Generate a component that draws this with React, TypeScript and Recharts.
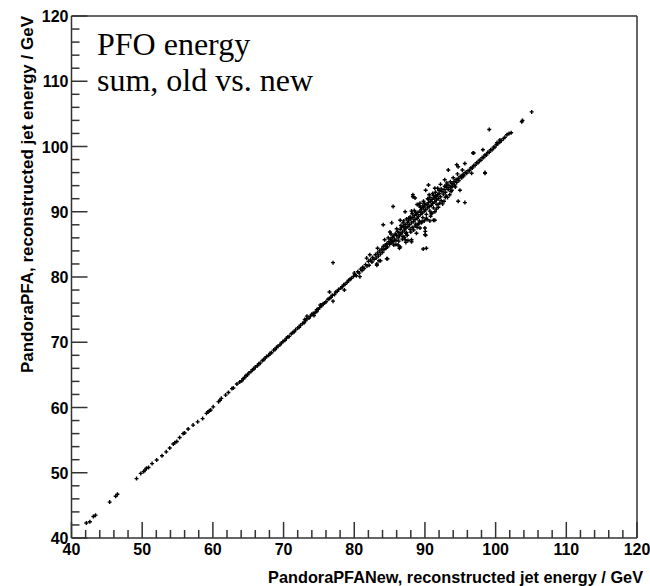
import { ScatterChart, Scatter, XAxis, YAxis, ReferenceLine } from 'recharts';

// =============================================================================
// Data (GeV)
// =============================================================================

// tick positions (every 2 GeV, labels on multiples of 10)
const axisTicks = [
  40, 42, 44, 46, 48, 50, 52, 54, 56, 58, 60, 62, 64, 66, 68, 70, 72, 74, 76, 78, 80,
  82, 84, 86, 88, 90, 92, 94, 96, 98, 100, 102, 104, 106, 108, 110, 112, 114, 116, 118, 120,
];
const labelledTicks = [40, 50, 60, 70, 80, 90, 100, 110, 120];

// sparse low-energy tail, [new, old]
const lowTail: [number, number][] = [
  [42.1, 42.3], [42.6, 42.5], [43.1, 43.3], [43.4, 43.5], [45.4, 45.5], [46.25, 46.4], [46.5, 46.7],
  [49.2, 49.1], [49.8, 49.9], [50.2, 50.2], [50.4, 50.4], [50.6, 50.7], [50.9, 50.8], [51.4, 51.4],
  [52.05, 51.95], [52.8, 52.6], [53.4, 53.2], [53.9, 53.8], [54.4, 54.4], [54.6, 54.6], [54.9, 54.8],
  [55.3, 55.4], [55.8, 56.0], [56.0, 56.1], [56.5, 56.7], [57.2, 57.3], [57.85, 57.8], [58.55, 58.3],
  [59.1, 59.1], [59.3, 59.3], [59.5, 59.5], [59.7, 59.6], [60.05, 60.1], [60.8, 60.9], [61.0, 61.1],
  [61.2, 61.4], [61.8, 61.9], [62.2, 62.3], [62.7, 62.9], [62.9, 63.0], [63.4, 63.6], [63.8, 63.9],
  [64.1, 64.1],
];

// continuous diagonal, 64 - 80 GeV
const lineBody: [number, number][] = [
  [64.3, 64.4], [64.5, 64.6], [64.7, 64.9], [64.9, 65.0], [65.1, 65.3], [65.4, 65.5], [65.6, 65.8],
  [65.8, 65.9], [66.0, 66.2], [66.3, 66.4], [66.5, 66.7], [66.7, 66.8], [67.0, 67.2], [67.2, 67.3],
  [67.4, 67.6], [67.6, 67.8], [67.9, 68.0], [68.1, 68.3], [68.3, 68.4], [68.6, 68.8], [68.8, 68.9],
  [69.0, 69.2], [69.2, 69.4], [69.5, 69.6], [69.7, 69.9], [69.9, 70.1], [70.2, 70.3], [70.4, 70.6],
  [70.6, 70.8], [70.8, 70.9], [71.1, 71.3], [71.3, 71.5], [71.5, 71.6], [71.7, 71.9], [72.0, 72.2],
  [72.2, 72.3], [72.4, 72.6], [72.7, 72.9], [72.9, 73.0], [73.0, 73.5], [73.1, 73.3], [73.3, 73.6],
  [73.6, 73.7], [73.8, 74.0], [74.0, 74.3], [74.2, 74.4], [74.3, 74.1], [74.5, 74.6], [74.7, 75.0],
  [74.9, 75.1], [75.1, 75.3], [75.2, 75.7], [75.4, 75.6], [75.6, 75.9], [75.8, 76.0], [76.0, 76.2],
  [76.3, 76.6], [76.5, 76.7], [76.7, 76.9], [76.9, 77.2], [77.2, 77.3], [77.4, 77.7], [77.6, 77.8],
  [77.8, 78.1], [78.1, 78.3], [78.3, 78.5], [78.5, 78.8], [78.7, 78.9], [79.0, 79.2], [79.2, 79.5],
  [79.4, 79.6], [79.6, 79.8], [79.9, 80.1],
];

// dense band, 80 - 101 GeV
const coreBand: [number, number][] = [
  [80.1, 80.3], [80.3, 80.2], [80.5, 80.8], [80.7, 80.6], [80.9, 81.2], [81.1, 81.0], [81.2, 81.5],
  [81.4, 81.3], [81.6, 81.9], [81.8, 81.7], [82.0, 82.4], [82.1, 81.8], [82.3, 82.6], [82.5, 82.3],
  [82.6, 83.0], [82.8, 82.7], [83.0, 83.4], [83.1, 82.9], [83.3, 83.7], [83.4, 83.2], [83.6, 84.0],
  [83.7, 83.5], [83.9, 84.3], [84.0, 83.8], [84.1, 84.7], [84.2, 84.2], [84.4, 84.9], [84.5, 84.4],
  [84.6, 85.1], [84.7, 84.6], [84.9, 85.4], [85.0, 85.0], [85.1, 85.8], [85.2, 85.2], [85.3, 85.6],
  [85.4, 86.1], [85.5, 85.4], [85.6, 86.3], [85.7, 85.8], [85.8, 86.6], [85.9, 85.6], [86.0, 86.4],
  [86.1, 87.0], [86.2, 86.0], [86.3, 86.8], [86.4, 86.3], [86.5, 87.3], [86.6, 86.6], [86.7, 87.6],
  [86.8, 86.9], [86.9, 86.2], [87.0, 87.7], [87.1, 87.2], [87.2, 88.0], [87.3, 87.5], [87.4, 86.8],
  [87.5, 88.3], [87.6, 87.7], [87.7, 88.6], [87.8, 88.0], [87.9, 87.3], [88.0, 88.9], [88.1, 88.3],
  [88.2, 87.6], [88.3, 89.1], [88.4, 88.5], [88.5, 89.4], [88.6, 88.8], [88.7, 88.1], [88.8, 89.6],
  [88.9, 89.0], [89.0, 89.9], [89.1, 89.3], [89.2, 88.6], [89.3, 90.1], [89.4, 89.6], [89.5, 90.4],
  [89.6, 89.8], [89.7, 89.1], [89.8, 90.6], [89.9, 90.1], [90.0, 90.9], [90.1, 90.3], [90.2, 89.6],
  [90.3, 91.1], [90.4, 90.6], [90.5, 91.4], [90.6, 90.8], [90.7, 90.1], [90.8, 91.6], [90.9, 91.0],
  [91.0, 91.9], [91.1, 91.3], [91.2, 90.6], [91.3, 92.1], [91.4, 91.5], [91.5, 92.4], [91.6, 91.8],
  [91.7, 91.1], [91.8, 92.6], [91.9, 92.0], [92.0, 92.8], [92.2, 92.3], [92.3, 91.7], [92.4, 93.1],
  [92.6, 92.7], [92.7, 93.4], [92.9, 93.0], [93.0, 92.4], [93.1, 93.7], [93.3, 93.4], [93.4, 94.0],
  [93.6, 93.7], [93.8, 94.3], [93.9, 93.9], [94.1, 94.6], [94.2, 94.1], [94.4, 94.9], [94.5, 94.5],
  [94.7, 95.1], [94.8, 94.8], [95.0, 95.4], [95.2, 95.2], [95.4, 95.7], [95.5, 95.5], [95.7, 96.0],
  [95.9, 95.9], [96.1, 96.3], [96.3, 96.3], [96.5, 96.7], [96.7, 96.7], [96.9, 97.1], [97.1, 97.1],
  [97.3, 97.5], [97.5, 97.5], [97.7, 97.9], [97.9, 97.9], [98.1, 98.3], [98.3, 98.3], [98.5, 98.7],
  [98.7, 98.7], [98.9, 99.1], [99.1, 99.1], [99.3, 99.5], [99.5, 99.5], [99.7, 99.9], [99.9, 99.9],
  [100.1, 100.3], [100.3, 100.4], [100.6, 100.7], [100.8, 100.9], [101.1, 101.2], [101.3, 101.4],
];

// spread around the band
const coreSpread: [number, number][] = [
  [84.8, 86.0], [85.6, 84.9], [86.3, 85.5], [86.8, 85.8], [87.0, 88.6], [87.5, 86.4], [87.9, 89.2],
  [88.4, 87.2], [88.7, 89.9], [89.0, 88.0], [89.4, 90.7], [89.6, 88.5], [89.9, 91.3], [90.2, 89.0],
  [90.5, 91.9], [90.9, 89.7], [91.2, 92.5], [91.6, 90.4], [92.0, 93.3], [92.5, 91.2], [92.8, 93.9],
  [93.2, 92.2], [93.6, 94.6], [86.0, 87.4], [88.1, 90.1], [90.6, 92.6], [91.4, 90.0], [92.2, 94.2],
  [87.6, 85.6], [89.3, 87.5], [85.2, 86.6], [85.9, 85.0], [86.6, 87.9], [87.1, 86.1], [87.7, 89.0],
  [88.0, 86.9], [88.5, 90.2], [88.9, 87.6], [89.2, 90.9], [89.5, 88.3], [89.8, 91.6], [90.3, 88.8],
  [90.7, 92.2], [91.0, 89.8], [91.5, 93.0], [91.9, 90.7], [92.3, 93.5], [92.7, 91.6], [93.1, 94.4],
  [93.5, 92.6], [86.2, 84.9], [86.9, 88.3], [87.4, 88.9], [88.2, 89.7], [88.9, 91.1], [89.7, 90.9],
  [90.4, 92.0], [91.1, 92.8], [91.8, 93.6], [90.8, 89.3], [89.9, 88.6], [89.1, 88.2], [88.6, 87.8],
  [92.1, 91.3], [92.9, 92.2], [94.0, 95.2], [94.6, 95.8], [95.3, 96.4], [93.7, 93.1], [94.3, 93.8],
];

// isolated events
const outliers: [number, number][] = [
  [77.0, 82.2], [76.5, 77.7], [77.0, 76.3], [78.6, 78.0], [73.3, 74.0], [74.7, 74.7], [80.8, 80.05],
  [80.0, 80.6], [83.2, 82.0], [83.5, 82.5], [84.6, 82.8], [83.3, 84.4], [81.75, 82.9], [82.2, 83.4],
  [85.5, 90.8], [84.1, 88.0], [85.05, 86.9], [84.3, 85.7], [85.3, 88.3], [88.3, 92.6], [90.5, 94.1],
  [91.4, 93.6], [92.8, 94.9], [94.7, 96.9], [95.65, 97.4], [96.8, 99.0], [98.2, 99.5], [98.5, 95.9],
  [94.7, 91.6], [95.65, 91.4], [91.2, 88.7], [90.7, 88.6], [90.0, 87.5], [90.0, 86.5], [90.2, 84.4],
  [89.75, 84.3], [88.1, 85.7], [87.2, 85.7], [86.5, 84.6], [88.8, 86.7], [86.5, 88.7], [87.2, 90.0],
  [89.3, 91.3], [88.6, 92.1], [91.6, 92.3], [93.1, 94.1], [93.8, 93.3], [94.95, 93.3], [95.4, 95.6],
  [96.6, 95.9], [93.3, 96.4], [94.5, 97.2], [99.1, 102.6], [96.9, 99.0], [98.5, 96.0], [88.3, 92.3],
  [90.1, 93.3], [91.4, 88.7], [88.1, 85.4], [84.7, 82.8], [83.7, 82.5], [83.2, 81.8], [90.1, 86.4],
  [90.05, 87.0], [87.3, 85.3], [86.4, 84.4], [87.3, 86.7],
];

// high-energy tail
const highTail: [number, number][] = [
  [100.2, 100.6], [100.6, 101.0], [101.6, 101.8], [101.9, 102.0], [102.2, 102.1], [103.7, 103.8],
  [103.8, 104.0], [105.1, 105.3],
];

const points = [...lowTail, ...lineBody, ...coreBand, ...coreSpread, ...outliers, ...highTail].map(
  ([x, y]) => ({ x, y })
);

// =============================================================================
// Layout / styling
// =============================================================================

const WIDTH = 650;
const HEIGHT = 586;
const MARGIN = { top: 16, right: 13 };
const Y_AXIS_W = 71.5;
const X_AXIS_H = 48;
const DOMAIN: [number, number] = [40, 120];

const AXIS_COLOR = '#333';
const SANS = '"Liberation Sans", Arial, sans-serif';
const MAJOR_TICK = 16;
const MINOR_TICK = 8;

const isMajor = (v: number) => labelledTicks.includes(v);

// plot box, same as the one recharts lays out from the margins/axis sizes above
const plot = {
  left: Y_AXIS_W,
  right: WIDTH - MARGIN.right,
  top: MARGIN.top,
  bottom: HEIGHT - X_AXIS_H,
};
const toPx = (v: number) => (v - DOMAIN[0]) / (DOMAIN[1] - DOMAIN[0]);

function XTick({ x, y, payload }: any) {
  if (!isMajor(payload.value)) return <g />;
  return (
    <text x={x} y={y + 17} textAnchor="middle" fontFamily={SANS} fontWeight="bold" fontSize={16} fill="#000">
      {payload.value}
    </text>
  );
}

function YTick({ x, y, payload }: any) {
  if (!isMajor(payload.value)) return <g />;
  return (
    <text x={x - 3} y={y + 6} textAnchor="end" fontFamily={SANS} fontWeight="bold" fontSize={16} fill="#000">
      {payload.value}
    </text>
  );
}

function XTitle({ viewBox }: any) {
  return (
    <text
      x={viewBox.x + viewBox.width + 6}
      y={viewBox.y + 45}
      textAnchor="end"
      fontFamily={SANS}
      fontWeight="bold"
      fontSize={16.3}
      fill="#000"
    >
      PandoraPFANew, reconstructed jet energy / GeV
    </text>
  );
}

function YTitle({ viewBox }: any) {
  const tx = 33;
  const ty = viewBox.y;
  return (
    <text
      x={tx}
      y={ty}
      transform={`rotate(-90, ${tx}, ${ty})`}
      textAnchor="end"
      fontFamily={SANS}
      fontWeight="bold"
      fontSize={17}
      fill="#000"
    >
      PandoraPFA, reconstructed jet energy / GeV
    </text>
  );
}

// small "+" marker
function Cross({ cx, cy }: any) {
  return <path d={`M${cx - 2},${cy}h4M${cx},${cy - 2}v4`} stroke="#000" strokeWidth={1.4} />;
}

// ROOT-style inward tick marks, laid over the chart
function TickOverlay() {
  const w = plot.right - plot.left;
  const h = plot.bottom - plot.top;
  return (
    <svg
      width={WIDTH}
      height={HEIGHT}
      style={{ position: 'absolute', left: 0, top: 0, pointerEvents: 'none', zIndex: 2 }}
    >
      {axisTicks.map((v) => {
        const len = isMajor(v) ? MAJOR_TICK : MINOR_TICK;
        const px = plot.left + toPx(v) * w;
        const py = plot.bottom - toPx(v) * h;
        return (
          <g key={v}>
            <line x1={px} y1={plot.bottom} x2={px} y2={plot.bottom - len} stroke={AXIS_COLOR} strokeWidth={1.5} />
            <line x1={plot.left} y1={py} x2={plot.left + len} y2={py} stroke={AXIS_COLOR} strokeWidth={1.5} />
          </g>
        );
      })}
    </svg>
  );
}

// =============================================================================
// Component
// =============================================================================

export default function App() {
  return (
    <div style={{ position: 'absolute', left: 0, top: 0, width: WIDTH, height: HEIGHT, background: '#fff' }}>
      <ScatterChart width={WIDTH} height={HEIGHT} margin={{ top: MARGIN.top, right: MARGIN.right, bottom: 0, left: 0 }}>
        <XAxis
          type="number"
          dataKey="x"
          domain={DOMAIN}
          ticks={axisTicks}
          interval={0}
          height={X_AXIS_H}
          tickSize={0}
          tickMargin={0}
          tickLine={false}
          axisLine={{ stroke: AXIS_COLOR, strokeWidth: 1.5 }}
          tick={(p: any) => <XTick {...p} />}
          label={<XTitle />}
        />
        <YAxis
          type="number"
          dataKey="y"
          domain={DOMAIN}
          ticks={axisTicks}
          interval={0}
          width={Y_AXIS_W}
          tickSize={0}
          tickMargin={0}
          tickLine={false}
          axisLine={{ stroke: AXIS_COLOR, strokeWidth: 1.5 }}
          tick={(p: any) => <YTick {...p} />}
          label={<YTitle />}
        />
        {/* frame: top and right edges */}
        <ReferenceLine y={120} stroke={AXIS_COLOR} strokeWidth={1.5} ifOverflow="visible" />
        <ReferenceLine x={120} stroke={AXIS_COLOR} strokeWidth={1.5} ifOverflow="visible" />
        <Scatter name="jets" data={points} shape={Cross} isAnimationActive={false} />
      </ScatterChart>
      <TickOverlay />
      <div
        style={{
          position: 'absolute',
          left: 97,
          top: 26,
          fontFamily: '"Liberation Serif", serif',
          fontSize: 32,
          lineHeight: '36px',
          color: '#000',
          pointerEvents: 'none',
          zIndex: 3,
        }}
      >
        PFO energy
        <br />
        sum, old vs. new
      </div>
    </div>
  );
}
